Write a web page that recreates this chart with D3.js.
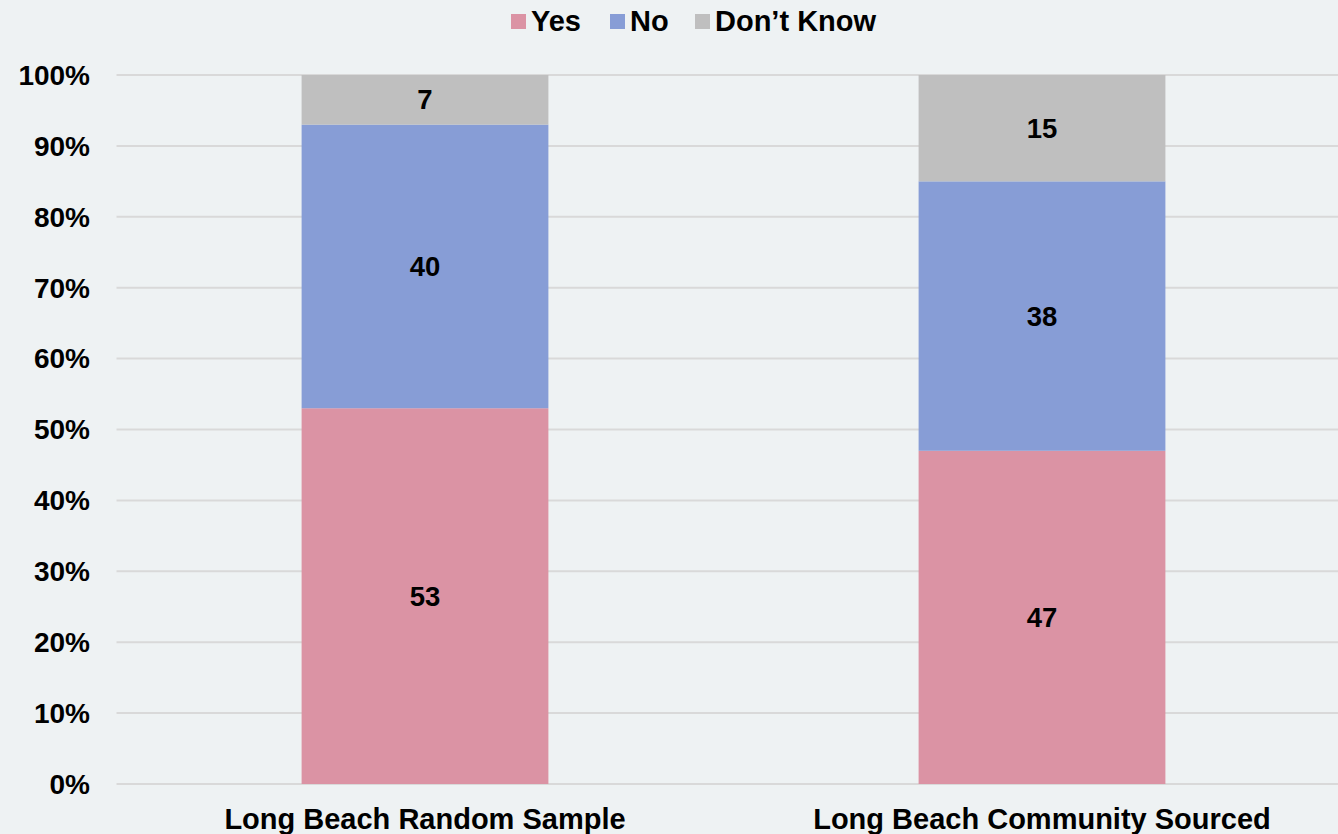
<!DOCTYPE html>
<html><head><meta charset="utf-8">
<script src="https://cdn.jsdelivr.net/npm/d3@7"></script>
<style>
html,body{margin:0;padding:0;background:#eef2f3;}
svg{display:block;font-family:"Liberation Sans",Arial,sans-serif;font-weight:bold;}
</style></head>
<body><svg id="chart" width="1338" height="834"></svg>
<script>
const categories = ["Long Beach Random Sample", "Long Beach Community Sourced"];
const seriesNames = ["Yes", "No", "Don’t Know"];
const yesValues = [53, 47];
const noValues = [40, 38];
const dontKnowValues = [7, 15];
const yTicks = [0, 10, 20, 30, 40, 50, 60, 70, 80, 90, 100];
const colors = ["#db93a4", "#879dd6", "#bfbfbf"];

(function () {
const W = 1338, H = 834;
const svg = d3.select("#chart");
svg.append("rect").attr("width", W).attr("height", H).attr("fill", "#eef2f3");

const mLeft = 116.5, mRight = 1350.5, mTop = 75, mBottom = 784;
const x = d3.scaleBand().domain(categories).range([mLeft, mRight]).paddingInner(0).paddingOuter(0);
const y = d3.scaleLinear().domain([0, 100]).range([mBottom, mTop]);
const barW = x.bandwidth() * 0.4;

// gridlines
svg.append("g").selectAll("line").data(yTicks).join("line")
  .attr("x1", mLeft).attr("x2", W)
  .attr("y1", d => y(d)).attr("y2", d => y(d))
  .attr("stroke", "#d9d9d9").attr("stroke-width", 2);

// y tick labels
svg.append("g").selectAll("text").data(yTicks).join("text")
  .attr("x", 90).attr("y", d => y(d)).attr("dy", "0.35em")
  .attr("text-anchor", "end").attr("font-size", 28).attr("fill", "#000")
  .text(d => d + "%");

const rows = categories.map((c, i) => ({cat: c, Yes: yesValues[i], No: noValues[i], "Don’t Know": dontKnowValues[i]}));
const stacked = d3.stack().keys(seriesNames)(rows);

const g = svg.append("g");
stacked.forEach((s, si) => {
  g.append("g").selectAll("rect").data(s).join("rect")
    .attr("x", d => x(d.data.cat) + x.bandwidth() / 2 - barW / 2)
    .attr("width", barW)
    .attr("y", d => y(d[1]))
    .attr("height", d => y(d[0]) - y(d[1]))
    .attr("fill", colors[si]);
  g.append("g").selectAll("text").data(s).join("text")
    .attr("x", d => x(d.data.cat) + x.bandwidth() / 2)
    .attr("y", d => y((d[0] + d[1]) / 2)).attr("dy", "0.35em")
    .attr("text-anchor", "middle").attr("font-size", 27.5).attr("fill", "#000")
    .text(d => d[1] - d[0]);
});

// category labels
svg.append("g").selectAll("text").data(categories).join("text")
  .attr("x", d => x(d) + x.bandwidth() / 2).attr("y", 829)
  .attr("text-anchor", "middle").attr("font-size", 29).attr("fill", "#000")
  .text(d => d);

// legend
const legendX = [511, 610, 695];
const lg = svg.append("g");
seriesNames.forEach((n, i) => {
  lg.append("rect").attr("x", legendX[i]).attr("y", 14).attr("width", 15).attr("height", 15).attr("fill", colors[i]);
  lg.append("text").attr("x", legendX[i] + 20).attr("y", 21).attr("dy", "0.35em")
    .attr("font-size", 29).attr("fill", "#000").text(n);
});
})();
</script></body></html>
